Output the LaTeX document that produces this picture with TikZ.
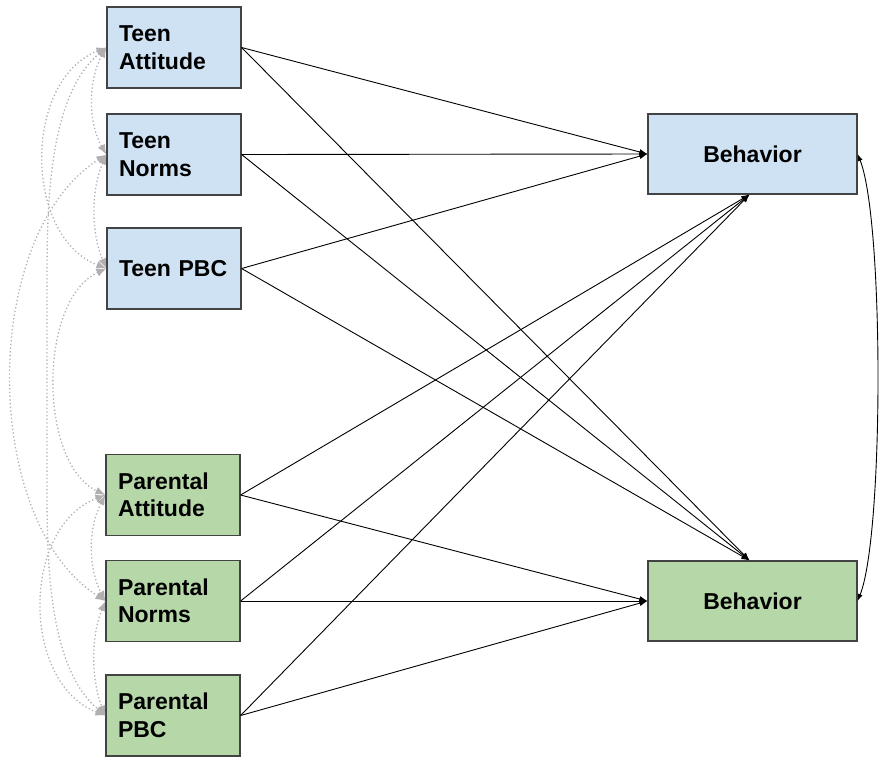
\documentclass[tikz,border=0pt]{standalone}
\usepackage{fontspec}
\setmainfont{Liberation Sans}
\usetikzlibrary{arrows.meta,calc}
\definecolor{teenfill}{HTML}{CFE2F3}
\definecolor{parfill}{HTML}{B6D7A8}
\definecolor{boxline}{HTML}{434343}
\definecolor{covgray}{HTML}{B0B0B0}
\begin{document}
\begin{tikzpicture}[x=1pt,y=-1pt,
  varbox/.style={draw=boxline, line width=1.2pt, minimum width=134pt, minimum height=81pt,
    text width=110pt, inner xsep=12pt, align=left,
    font=\fontsize{23}{27.5}\selectfont\bfseries},
  outbox/.style={draw=boxline, line width=1.2pt, minimum width=209pt, minimum height=80pt,
    align=center, font=\fontsize{23}{27.5}\selectfont\bfseries},
  path/.style={draw=black, line width=0.9pt, -{Latex[length=8pt,width=6pt]}},
  covpath/.style={draw=covgray, line width=1.3pt, dash pattern=on 1.3pt off 2.4pt,
    {Latex[length=10pt,width=8pt]}-{Latex[length=10pt,width=8pt]}},
  resid/.style={draw=black, line width=0.9pt,
    {Latex[length=7pt,width=5pt]}-{Latex[length=7pt,width=5pt]}}]
\useasboundingbox (0,0) rectangle (880,756);

% predictors
\node[varbox, fill=teenfill] (ta) at (174,47.5) {Teen\\Attitude};
\node[varbox, fill=teenfill] (tn) at (174,154.5) {Teen\\Norms};
\node[varbox, fill=teenfill] (tp) at (174,268.5) {Teen PBC};
\node[varbox, fill=parfill] (pa) at (173,495) {Parental\\Attitude};
\node[varbox, fill=parfill] (pn) at (173,601) {Parental\\Norms};
\node[varbox, fill=parfill] (pp) at (173,715.5) {Parental\\PBC};

% outcomes
\node[outbox, fill=teenfill] (bt) at (752.5,154) {Behavior};
\node[outbox, fill=parfill] (bp) at (752.5,601) {Behavior};

% regression paths
\foreach \src in {ta,tn,tp} {
  \draw[path] (\src.east) -- (bt.west);
  \draw[path] (\src.east) -- ($(bp.north)+(-3,0)$);
}
\foreach \src in {pa,pn,pp} {
  \draw[path] (\src.east) -- ($(bt.south)+(-3,0)$);
  \draw[path] (\src.east) -- (bp.west);
}

% residual covariance between the outcomes
\draw[resid] (bt.east) .. controls (884,220) and (884,535) .. (bp.east);

% covariances among the predictors
\draw[covpath] (ta.west) .. controls (88,80) and (88,123) .. (tn.west);
\draw[covpath] (tn.west) .. controls (91,190) and (91,233) .. (tp.west);
\draw[covpath] (ta.west) .. controls (23,80) and (23,236) .. (tp.west);
\draw[covpath] (pa.west) .. controls (88,528) and (88,568) .. (pn.west);
\draw[covpath] (pn.west) .. controls (91,636) and (91,680) .. (pp.west);
\draw[covpath] (pa.west) .. controls (21,527) and (21,683) .. (pp.west);
\draw[covpath] (tp.west) .. controls (38,300) and (38,463) .. (pa.west);
\draw[covpath] (tn.west) .. controls (-20,235) and (-20,520) .. (pn.west);
\coordinate (upturn) at (47,290);
\coordinate (downturn) at (47,470);
\draw[covpath] (ta.west) to[out=220,in=90,looseness=0.8] (upturn) -- (downturn)
  to[out=-90,in=140,looseness=0.8] (pp.west);
\end{tikzpicture}
\end{document}
